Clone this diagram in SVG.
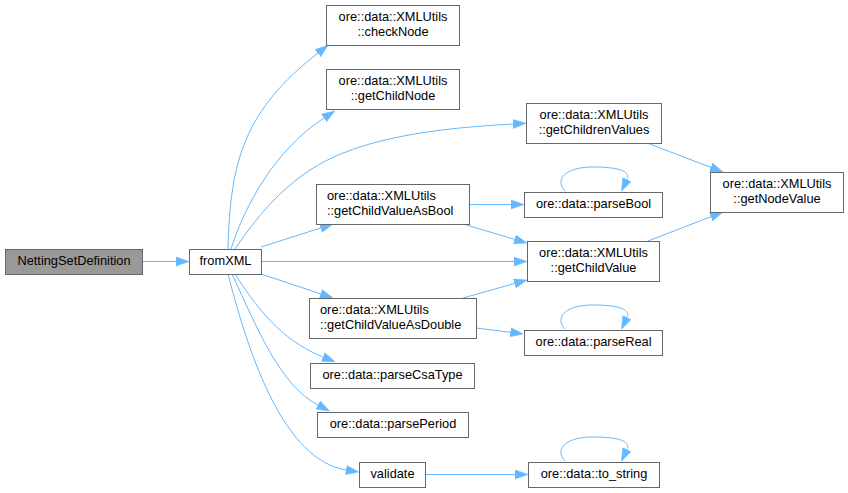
<svg xmlns="http://www.w3.org/2000/svg" width="848" height="493" viewBox="0 0 848 493">
<style>
.n rect{fill:#ffffff;stroke:#666666;stroke-width:1}
#n0 rect{fill:#999999}
.n text{font-family:"Liberation Sans",Arial,sans-serif;font-size:12.8px;fill:#000000}
.m{text-anchor:middle}
.e path{fill:none;stroke:#63b8ff;stroke-width:1;marker-end:url(#ah)}
</style>
<defs>
<marker id="ah" viewBox="0 0 13 10" refX="0" refY="5" markerWidth="13" markerHeight="10" markerUnits="userSpaceOnUse" orient="auto">
<path d="M0,0.4 L13,5 L0,9.6 z" fill="#63b8ff" stroke="#63b8ff" stroke-width="0.5"/>
</marker>
</defs>
<rect width="848" height="493" fill="#ffffff"/>
<g class="e" id="edges">
<path d="M142,261.5 L176,261.5"/>
<path d="M228,249 C230,160 245,110 317.8,53.2"/>
<path d="M231,249 C245,205 275,150 324,118"/>
<path d="M235,249 C258,215 280,190 310,170 C360,137 440,128 513,124"/>
<path d="M261,247 L320.6,228"/>
<path d="M261,261.5 L514,261.5"/>
<path d="M261,274 L320.7,293.9"/>
<path d="M235,274 C255,305 280,340 323,357"/>
<path d="M232,274 C258,330 280,385 318,405"/>
<path d="M228,274 C250,360 285,460 346,470"/>
<path d="M469,204.5 L511,204.5"/>
<path d="M463,224 L514.5,239.3"/>
<path d="M463,298 L514.5,283.5"/>
<path d="M476,328 L510.4,332.3"/>
<path d="M647,143 L710.9,167.4"/>
<path d="M648,241 L710.9,216.7"/>
<path d="M425,474.5 L515,474.5"/>
<path d="M565,191 C555,181 563,167 593,167 C618,167 631,171 627,179.5"/>
<path d="M565,329 C555,319 563,305 593,305 C618,305 631,309 627,317.5"/>
<path d="M565,461 C555,451 563,437 593,437 C618,437 631,441 627,449.5"/>
</g>
<g class="n" id="n0"><rect x="5.5" y="249.5" width="137" height="25"/><text class="m" x="74" y="265">NettingSetDefinition</text></g>
<g class="n" id="n1"><rect x="189.5" y="249.5" width="72" height="25"/><text class="m" x="225.5" y="265">fromXML</text></g>
<g class="n" id="n2"><rect x="326.5" y="5.5" width="133" height="40"/><text class="m" x="393" y="21">ore::data::XMLUtils</text><text class="m" x="393" y="36">::checkNode</text></g>
<g class="n" id="n3"><rect x="326.5" y="69.5" width="133" height="40"/><text class="m" x="393" y="85">ore::data::XMLUtils</text><text class="m" x="393" y="100">::getChildNode</text></g>
<g class="n" id="n4"><rect x="316.5" y="184.5" width="153" height="40"/><text x="327" y="200">ore::data::XMLUtils</text><text x="327" y="215">::getChildValueAsBool</text></g>
<g class="n" id="n5"><rect x="309.5" y="298.5" width="167" height="40"/><text x="320" y="314">ore::data::XMLUtils</text><text x="320" y="329">::getChildValueAsDouble</text></g>
<g class="n" id="n6"><rect x="310.5" y="363.5" width="164" height="25"/><text class="m" x="392.5" y="379">ore::data::parseCsaType</text></g>
<g class="n" id="n7"><rect x="317.5" y="412.5" width="151" height="25"/><text class="m" x="393" y="428">ore::data::parsePeriod</text></g>
<g class="n" id="n8"><rect x="359.5" y="462.5" width="66" height="25"/><text class="m" x="392.5" y="478">validate</text></g>
<g class="n" id="n9"><rect x="526.5" y="103.5" width="135" height="40"/><text class="m" x="594" y="119">ore::data::XMLUtils</text><text class="m" x="594" y="134">::getChildrenValues</text></g>
<g class="n" id="n10"><rect x="524.5" y="192.5" width="138" height="25"/><text class="m" x="593.5" y="208">ore::data::parseBool</text></g>
<g class="n" id="n11"><rect x="527.5" y="241.5" width="132" height="40"/><text class="m" x="593.5" y="257">ore::data::XMLUtils</text><text class="m" x="593.5" y="272">::getChildValue</text></g>
<g class="n" id="n12"><rect x="710.5" y="172.5" width="133" height="40"/><text class="m" x="777" y="188">ore::data::XMLUtils</text><text class="m" x="777" y="203">::getNodeValue</text></g>
<g class="n" id="n13"><rect x="524.5" y="330.5" width="138" height="25"/><text class="m" x="593.5" y="346">ore::data::parseReal</text></g>
<g class="n" id="n14"><rect x="528.5" y="462.5" width="131" height="25"/><text class="m" x="594" y="478">ore::data::to_string</text></g>
</svg>
